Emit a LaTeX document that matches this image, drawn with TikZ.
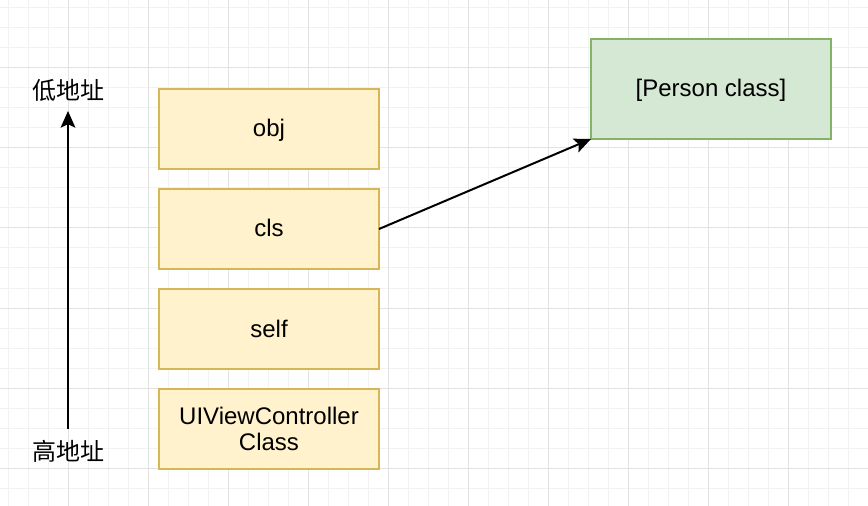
\documentclass[tikz,border=0pt]{standalone}
\usepackage{fontspec}
\setmainfont{Liberation Sans}
\newfontfamily\cjk{Noto Sans CJK SC}
\usetikzlibrary{arrows.meta,positioning}

\definecolor{slotfill}{HTML}{FFF2CC}
\definecolor{slotline}{HTML}{D6B656}
\definecolor{clsfill}{HTML}{D5E8D4}
\definecolor{clsline}{HTML}{82B366}
\definecolor{gridminor}{HTML}{F2F2F2}
\definecolor{gridmajor}{HTML}{E2E2E2}

\tikzset{
	slot/.style={draw=slotline, fill=slotfill, line width=1.2pt, outer sep=0pt, minimum width=165pt, minimum height=60pt, align=center, text height=16pt, text depth=4pt, font=\fontsize{18}{20}\selectfont},
	classbox/.style={draw=clsline, fill=clsfill, line width=1.2pt, outer sep=0pt, minimum width=180pt, minimum height=75pt, text height=16pt, text depth=4pt, font=\fontsize{18}{20}\selectfont},
	addr/.style={font=\cjk\fontsize{18}{20}\selectfont, inner sep=0pt, text height=16pt, text depth=2pt},
	ptr/.style={line width=1.5pt, -{Stealth[length=12.5pt,width=11pt,inset=2.5pt]}}
}

\begin{document}
\begin{tikzpicture}[x=0.75pt,y=-0.75pt]
			\useasboundingbox (0,0) rectangle (868,506);
			\fill[white] (0,0) rectangle (868,506);
			\foreach \col in {8,28,...,868} {
				\draw[gridminor, line width=0.75pt] (\col,0) -- (\col,506);
			};
			\foreach \row in {8,28,...,506} {
				\draw[gridminor, line width=0.75pt] (0,\row) -- (868,\row);
			};
			\foreach \col in {68,148,...,868} {
				\draw[gridmajor, line width=0.75pt] (\col,0) -- (\col,506);
			};
			\foreach \row in {68,148,...,506} {
				\draw[gridmajor, line width=0.75pt] (0,\row) -- (868,\row);
			};

			\node[slot] (obj) at (269,129) {obj};
			\node[slot, below=15pt of obj] (cls) {cls};
			\node[slot, below=15pt of cls] (self) {self};
			\node[slot, below=15pt of self, text height={}, text depth={}] (vc) {UIViewController\\[-1pt]Class};
			\node[classbox] (person) at (711,89) {[Person class]};

			\node[addr] (low) at (68,90) {低地址};
			\node[addr] (high) at (68,451) {高地址};

			\draw[ptr] (cls.east) -- (person.south west);
			\draw[ptr, shorten <=7.5pt, shorten >=6.5pt] (high.north) -- (low.south);
		\end{tikzpicture}
\end{document}
